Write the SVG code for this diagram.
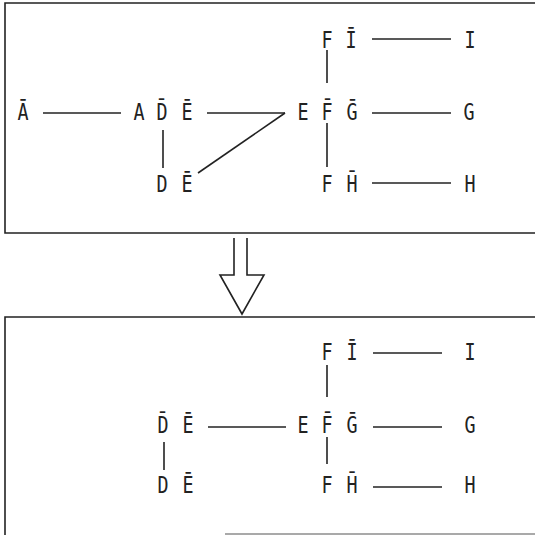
<svg xmlns="http://www.w3.org/2000/svg" width="535" height="535" viewBox="0 0 535 535">
  <style>
    .frame { fill: none; stroke: #222; stroke-width: 1.6; }
    .faint { fill: none; stroke: #555; stroke-width: 1.2; }
    .edge { fill: none; stroke: #222; stroke-width: 1.6; stroke-linecap: butt; }
    .lbl { font-family: "DejaVu Sans Mono", "Liberation Mono", monospace; font-size: 23px; fill: #222; text-anchor: middle; }
  </style>
  <rect width="535" height="535" fill="#fff"/>

  <!-- frames -->
  <g id="frames">
    <path class="frame" d="M540 3 H5 V233 H540"/>
    <path class="frame" d="M540 317 H5 V540"/>
    <line class="faint" x1="225" y1="534" x2="540" y2="534"/>
  </g>

  <!-- transition arrow between the two frames -->
  <g id="arrow">
    <path class="edge" d="M234 238 V275 H220 L242 314 L264 275 H247 V238"/>
  </g>

  <!-- connectors -->
  <g id="connectors">
    <!-- upper graph -->
    <line class="edge" x1="43" y1="113" x2="121" y2="113"/>
    <line class="edge" x1="207" y1="113" x2="285" y2="113"/>
    <line class="edge" x1="285" y1="113" x2="198" y2="173"/>
    <line class="edge" x1="163" y1="130" x2="163" y2="168"/>
    <line class="edge" x1="327" y1="50" x2="327" y2="83"/>
    <line class="edge" x1="327" y1="123" x2="327" y2="167"/>
    <line class="edge" x1="372" y1="39" x2="451" y2="39"/>
    <line class="edge" x1="372" y1="113" x2="451" y2="113"/>
    <line class="edge" x1="372" y1="183" x2="451" y2="183"/>
    <!-- lower graph -->
    <line class="edge" x1="208" y1="427" x2="286" y2="427"/>
    <line class="edge" x1="164" y1="442" x2="164" y2="470"/>
    <line class="edge" x1="327" y1="365" x2="327" y2="397"/>
    <line class="edge" x1="327" y1="437" x2="327" y2="464"/>
    <line class="edge" x1="373" y1="353" x2="442" y2="353"/>
    <line class="edge" x1="373" y1="427" x2="442" y2="427"/>
    <line class="edge" x1="373" y1="487" x2="442" y2="487"/>
  </g>

  <!-- upper graph nodes (letters narrowed horizontally) -->
  <g id="u-Abar"><text class="lbl" transform="translate(23 120) scale(0.8 1)">A&#x304;</text></g>
  <g id="u-ADE">
    <text class="lbl" transform="translate(139 120) scale(0.8 1)">A</text>
    <text class="lbl" transform="translate(162 120) scale(0.8 1)">D&#x304;</text>
    <text class="lbl" transform="translate(187 120) scale(0.8 1)">E&#x304;</text>
  </g>
  <g id="u-DE">
    <text class="lbl" transform="translate(162 192) scale(0.8 1)">D</text>
    <text class="lbl" transform="translate(187 192) scale(0.8 1)">E&#x304;</text>
  </g>
  <g id="u-EFG">
    <text class="lbl" transform="translate(303 120) scale(0.8 1)">E</text>
    <text class="lbl" transform="translate(327 120) scale(0.8 1)">F&#x304;</text>
    <text class="lbl" transform="translate(352 120) scale(0.8 1)">G&#x304;</text>
  </g>
  <g id="u-FI">
    <text class="lbl" transform="translate(327 48) scale(0.8 1)">F</text>
    <text class="lbl" transform="translate(351 48) scale(0.8 1)">I&#x304;</text>
  </g>
  <g id="u-FH">
    <text class="lbl" transform="translate(327 192) scale(0.8 1)">F</text>
    <text class="lbl" transform="translate(352 192) scale(0.8 1)">H&#x304;</text>
  </g>
  <g id="u-I"><text class="lbl" transform="translate(470 48) scale(0.8 1)">I</text></g>
  <g id="u-G"><text class="lbl" transform="translate(469 120) scale(0.8 1)">G</text></g>
  <g id="u-H"><text class="lbl" transform="translate(470 192) scale(0.8 1)">H</text></g>

  <!-- lower graph nodes -->
  <g id="l-DE-top">
    <text class="lbl" transform="translate(163 433) scale(0.8 1)">D&#x304;</text>
    <text class="lbl" transform="translate(188 433) scale(0.8 1)">E&#x304;</text>
  </g>
  <g id="l-DE">
    <text class="lbl" transform="translate(163 493) scale(0.8 1)">D</text>
    <text class="lbl" transform="translate(188 493) scale(0.8 1)">E&#x304;</text>
  </g>
  <g id="l-EFG">
    <text class="lbl" transform="translate(303 433) scale(0.8 1)">E</text>
    <text class="lbl" transform="translate(327 433) scale(0.8 1)">F&#x304;</text>
    <text class="lbl" transform="translate(352 433) scale(0.8 1)">G&#x304;</text>
  </g>
  <g id="l-FI">
    <text class="lbl" transform="translate(327 360) scale(0.8 1)">F</text>
    <text class="lbl" transform="translate(352 360) scale(0.8 1)">I&#x304;</text>
  </g>
  <g id="l-FH">
    <text class="lbl" transform="translate(327 493) scale(0.8 1)">F</text>
    <text class="lbl" transform="translate(352 493) scale(0.8 1)">H&#x304;</text>
  </g>
  <g id="l-I"><text class="lbl" transform="translate(470 360) scale(0.8 1)">I</text></g>
  <g id="l-G"><text class="lbl" transform="translate(470 433) scale(0.8 1)">G</text></g>
  <g id="l-H"><text class="lbl" transform="translate(470 493) scale(0.8 1)">H</text></g>
</svg>
